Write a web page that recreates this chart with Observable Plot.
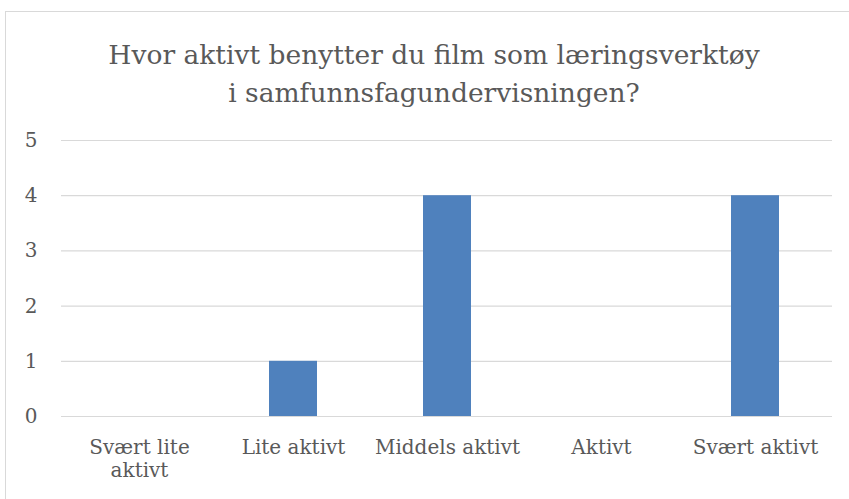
<!DOCTYPE html>
<html><head><meta charset="utf-8">
<script src="https://cdn.jsdelivr.net/npm/d3@7"></script>
<script src="https://cdn.jsdelivr.net/npm/@observablehq/plot@0.6"></script>
<style>
html,body{margin:0;padding:0;background:#fff;overflow:hidden;width:849px;height:499px;}
#wrap{position:relative;width:849px;height:499px;}
#frame{position:absolute;left:5px;top:11px;width:900px;height:600px;border:1px solid #d9d9d9;box-sizing:border-box;}
#title{position:absolute;left:0;top:36px;width:868px;text-align:center;font-family:"DejaVu Serif",serif;font-size:26.5px;line-height:38px;color:#595959;}
#chart{position:absolute;left:0;top:0;}
</style></head>
<body><div id="wrap"><div id="frame"></div>
<div id="title">Hvor aktivt benytter du film som læringsverktøy<br>i samfunnsfagundervisningen?</div>
<div id="chart"></div></div>
<script>
const categories = ["Svært lite aktivt","Lite aktivt","Middels aktivt","Aktivt","Svært aktivt"];
const tickLabels = ["Svært lite\naktivt","Lite aktivt","Middels aktivt","Aktivt","Svært aktivt"];
const values = [0,1,4,0,4];
const yTicks = [0,1,2,3,4,5];
const data = categories.map((c,i)=>({cat:c, value:values[i]}));
const labelOf = new Map(categories.map((c,i)=>[c,tickLabels[i]]));
const chart = Plot.plot({
  width:849, height:499,
  marginTop:140, marginBottom:83, marginLeft:61, marginRight:17,
  style:{fontFamily:"DejaVu Serif, serif", fontSize:"20px", color:"#595959", background:"transparent"},
  x:{domain:categories, paddingInner:0.69, paddingOuter:0.345, label:null},
  y:{domain:[0,5], label:null},
  marks:[
    Plot.gridY(yTicks,{stroke:"#d9d9d9", strokeOpacity:1, strokeWidth:1.2}),
    Plot.barY(data,{x:"cat", y:"value", fill:"#4f81bd"}),
    Plot.axisY(yTicks,{tickSize:0, tickPadding:24, fontSize:20, fill:"#595959", tickFormat:d=>String(d), label:null}),
    Plot.axisX({tickSize:0, tickPadding:21, fontSize:20, fill:"#595959", lineHeight:1.15, tickFormat:d=>labelOf.get(d), label:null})
  ]
});
document.getElementById("chart").appendChild(chart);
</script></body></html>
